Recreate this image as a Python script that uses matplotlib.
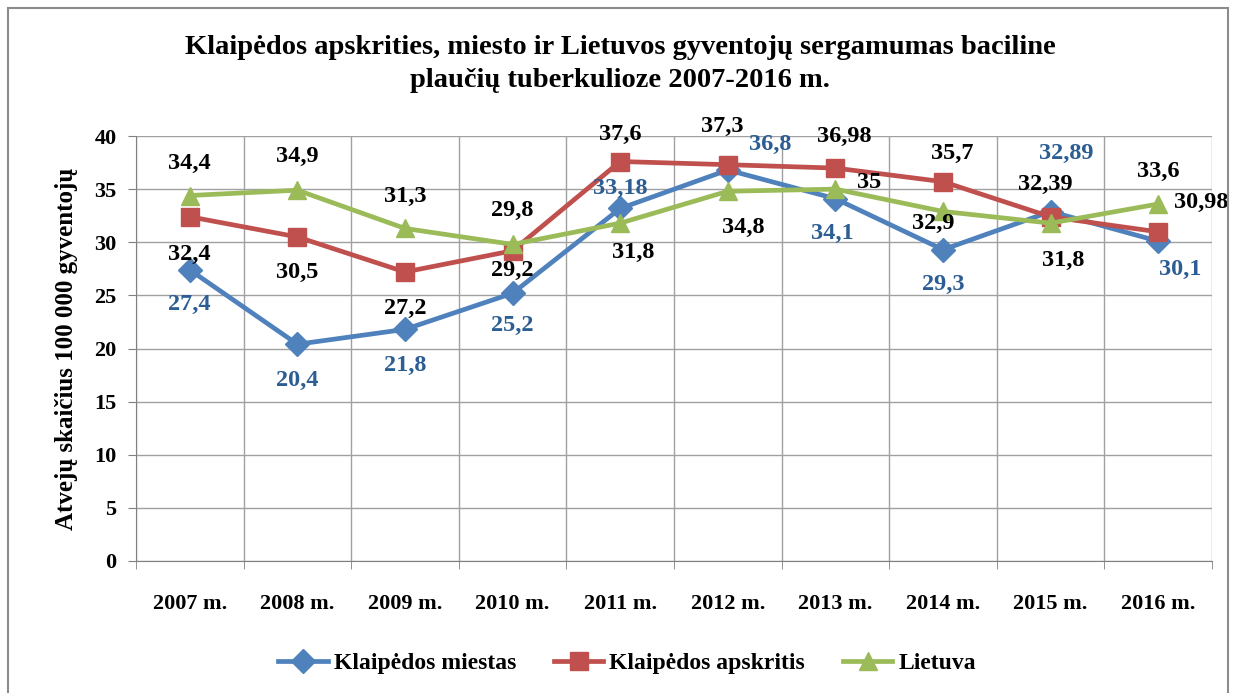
import matplotlib.pyplot as plt
from matplotlib.patches import Rectangle

plt.rcParams['font.family'] = ['Liberation Serif', 'DejaVu Serif']
plt.rcParams['font.weight'] = 'bold'

metai = ['2007 m.', '2008 m.', '2009 m.', '2010 m.', '2011 m.', '2012 m.', '2013 m.', '2014 m.', '2015 m.', '2016 m.']
miestas = [27.4, 20.4, 21.8, 25.2, 33.18, 36.8, 34.1, 29.3, 32.89, 30.1]
apskritis = [32.4, 30.5, 27.2, 29.2, 37.6, 37.3, 36.98, 35.7, 32.39, 30.98]
lietuva = [34.4, 34.9, 31.3, 29.8, 31.8, 34.8, 35, 32.9, 31.8, 33.6]

# label offsets in pixels (dx, dy)
off_miestas = [(0, -35), (0, -36), (0, -36), (0, -32), (0, 20), (42, 26), (-3, -35), (0, -35), (16, 58), (22, -28)]
off_apskritis = [(0, -38), (0, -36), (0, -36), (0, -20), (0, 27), (-6, 38), (9, 32), (9, 28), (-5, 32), (43, 29)]
off_lietuva = [(0, 32), (0, 34), (0, 32), (0, 34), (13, -29), (15, -36), (34, 7), (-10, -12), (13, -37), (0, 33)]

fig = plt.figure(figsize=(12.33, 6.93), dpi=100)
ax = fig.add_axes([136 / 1233, 1 - 561 / 693, (1212 - 136) / 1233, (561 - 136) / 693])

x = list(range(len(metai)))
serijos = [
    ('Klaipėdos miestas', miestas, '#4F81BD', 'D', 12.5, off_miestas, '#2C5D93'),
    ('Klaipėdos apskritis', apskritis, '#C0504D', 's', 12.5, off_apskritis, 'black'),
    ('Lietuva', lietuva, '#9BBB59', '^', 13.5, off_lietuva, 'black'),
]
for pav, reiksmes, spalva, zymeklis, dydis, poslinkiai, tspalva in serijos:
    ax.plot(x, reiksmes, color=spalva, lw=3.4, marker=zymeklis, ms=dydis, label=pav, zorder=3)
for pav, reiksmes, spalva, zymeklis, dydis, poslinkiai, tspalva in serijos:
    for xi, v, (dx, dy) in zip(x, reiksmes, poslinkiai):
        ax.annotate(f'{v:g}'.replace('.', ','), (xi, v), xytext=(dx, dy), textcoords='offset pixels',
                    ha='center', va='center', fontsize=17.5, fontweight='bold', color=tspalva, zorder=4)

ax.set_xlim(-0.5, 9.5)
ax.set_ylim(0, 40)
ax.set_yticks(range(0, 41, 5))
ax.set_xticks(x)
ax.set_xticklabels(metai)
ax.set_xticks([i - 0.5 for i in range(11)], minor=True)
ax.grid(True, axis='y', color='#A0A0A0', lw=1)
ax.grid(True, axis='x', which='minor', color='#A0A0A0', lw=1)
ax.tick_params(axis='x', which='major', length=0, pad=24, labelsize=16)
ax.tick_params(axis='x', which='minor', length=6, color='#808080', direction='out')
ax.tick_params(axis='y', length=6, color='#808080', labelsize=16, pad=8)
for s in ['top', 'right']:
    ax.spines[s].set_visible(False)
for s in ['left', 'bottom']:
    ax.spines[s].set_color('#808080')
ax.set_axisbelow(True)
ax.set_ylabel('Atvejų skaičius 100 000 gyventojų', fontsize=18, fontweight='bold', labelpad=12)

fig.text(620 / 1233, 1 - 64 / 693, 'Klaipėdos apskrities, miesto ir Lietuvos gyventojų sergamumas baciline\nplaučių tuberkulioze 2007-2016 m.',
         ha='center', va='center', fontsize=20.5, fontweight='bold', linespacing=1.45)

fig.legend(loc='center', bbox_to_anchor=(627 / 1233, 1 - 663 / 693), ncol=3, frameon=False,
           fontsize=17, handlelength=2.1, columnspacing=1.6, handletextpad=0.25)

fig.patches.append(Rectangle((8 / 1233, -0.1), (1228 - 8) / 1233, 1.1 - 8 / 693, transform=fig.transFigure,
                             fill=False, edgecolor='#8C8C8C', lw=1.5))

plt.savefig('out.png')
